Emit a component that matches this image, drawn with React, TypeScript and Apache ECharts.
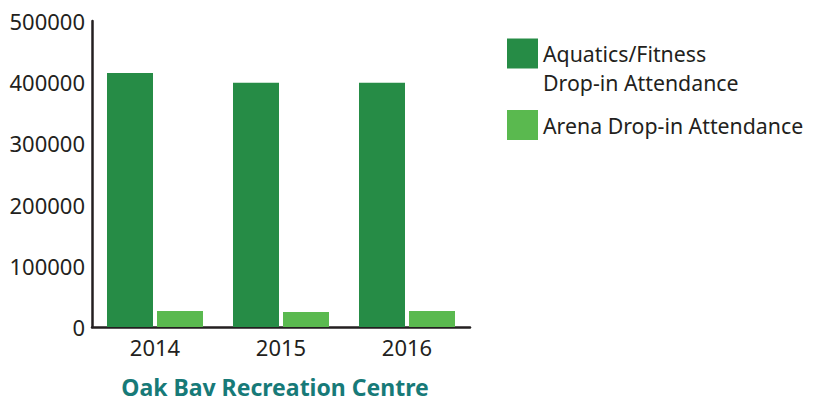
import React, { useEffect, useRef } from "react";
import * as echarts from "echarts";

const years = ["2014", "2015", "2016"];
const aquatics = [415000, 399000, 399000];
const arena = [26000, 24500, 26000];
const seriesNames = ["Aquatics/Fitness Drop-in Attendance", "Arena Drop-in Attendance"];
const chartTitle = "Oak Bay Recreation Centre";

const FONT = "Noto Sans";
const TEXT = "#231f20";

export default function App() {
  const ref = useRef<HTMLDivElement>(null);
  useEffect(() => {
    if (!ref.current) return;
    const chart = echarts.init(ref.current, null, { renderer: "svg" });
    chart.setOption({
      animation: false,
      textStyle: { fontFamily: FONT },
      title: {
        text: chartTitle,
        left: 275,
        top: 373,
        textAlign: "center",
        padding: 0,
        textStyle: { fontFamily: FONT, fontSize: 23, fontWeight: "bold", color: "#177a78", lineHeight: 28 },
      },
      legend: {
        orient: "vertical",
        left: 507,
        top: 10,
        itemWidth: 31,
        itemHeight: 30,
        itemGap: 13,
        icon: "rect",
        padding: 0,
        data: [seriesNames[0], seriesNames[1]],
        formatter: (n: string) => (n === seriesNames[0] ? "\nAquatics/Fitness\nDrop-in Attendance" : n),
        textStyle: { fontFamily: FONT, fontSize: 21.3, color: TEXT, lineHeight: 29 },
      },
      grid: { left: 92, right: 343, top: 21, bottom: 77, containLabel: false },
      xAxis: {
        type: "category",
        data: years,
        axisLine: { lineStyle: { color: TEXT, width: 2.5 } },
        axisTick: { show: false },
        axisLabel: { fontFamily: FONT, fontSize: 22, color: TEXT, margin: 9 },
      },
      yAxis: {
        type: "value",
        min: 0,
        max: 500000,
        interval: 100000,
        axisLine: { show: true, lineStyle: { color: TEXT, width: 2.5 } },
        axisTick: { show: false },
        splitLine: { show: false },
        axisLabel: { fontFamily: FONT, fontSize: 22, color: TEXT, margin: 7, formatter: (v: number) => String(v) },
      },
      series: [
        { name: seriesNames[0], type: "bar", data: aquatics, barWidth: 46, barGap: "8.7%", itemStyle: { color: "#268c46" } },
        { name: seriesNames[1], type: "bar", data: arena, barWidth: 46, barGap: "8.7%", itemStyle: { color: "#5ab94f" } },
      ],
    });
    return () => chart.dispose();
  }, []);
  return <div ref={ref} style={{ width: 813, height: 404, margin: -8 }} />;
}
